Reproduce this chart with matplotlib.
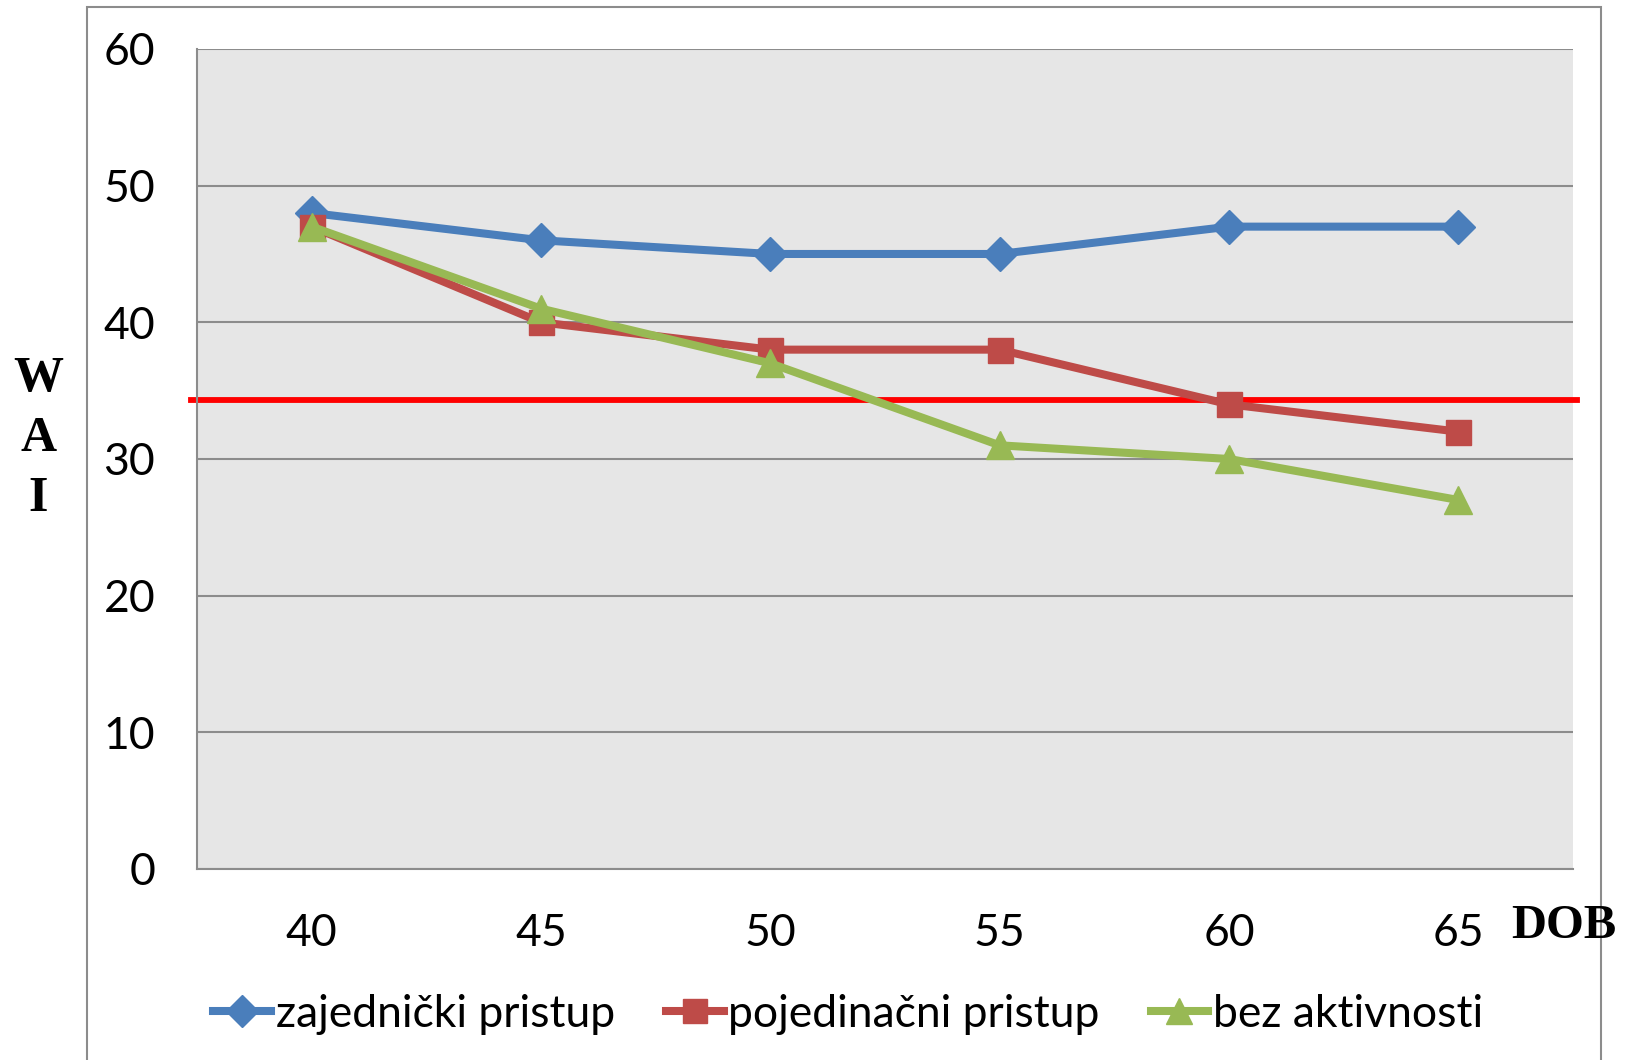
import numpy as np
import matplotlib
matplotlib.use("Agg")
import matplotlib.pyplot as plt
from matplotlib.patches import Rectangle

# Data.
ages = ["40", "45", "50", "55", "60", "65"]
zajednicki = [48, 46, 45, 45, 47, 47]
pojedinacni = [47, 40, 38, 38, 34, 32]
bez_aktivnosti = [47, 41, 37, 31, 30, 27]
threshold = 34.3
yticks = [0, 10, 20, 30, 40, 50, 60]

plt.rcParams["font.family"] = ["Lato", "DejaVu Sans"]

fig = plt.figure(figsize=(16.28, 10.6), dpi=100)
ax = fig.add_axes([0.1210, 0.1802, 0.9662 - 0.1210, 0.9538 - 0.1802])
ax.set_facecolor("#E6E6E6")

x = np.arange(len(ages))

ax.axhline(threshold, xmin=-0.004, xmax=1.003, color="#FF0000", lw=4.2, zorder=2, clip_on=False)

ax.plot(x, zajednicki, color="#4A7EBB", lw=5.8, marker="D", ms=17, zorder=3, label="zajednički pristup")
ax.plot(x, pojedinacni, color="#BE4B48", lw=5.8, marker="s", ms=18, zorder=4, label="pojedinačni pristup")
ax.plot(x, bez_aktivnosti, color="#98B954", lw=5.8, marker="^", ms=20, zorder=5, label="bez aktivnosti")

ax.set_xlim(-0.5, len(ages) - 0.5)
ax.set_ylim(0, 60)
ax.set_yticks(yticks)
ax.set_xticks(x)
ax.set_xticklabels(ages)
ax.tick_params(length=0, labelsize=32, colors="black")
ax.tick_params(axis="y", pad=30)
ax.tick_params(axis="x", pad=32)
ax.yaxis.grid(True, color="#8C8C8C", lw=1.5)
ax.set_axisbelow(True)
for side in ["top", "right"]:
    ax.spines[side].set_visible(False)
for side in ["left", "bottom"]:
    ax.spines[side].set_color("#8C8C8C")
    ax.spines[side].set_linewidth(1.5)

fig.text(0.0236, 0.5858, "W\nA\nI", family="Liberation Serif", weight="bold",
         fontsize=36, ha="center", va="center", linespacing=1.4)
fig.text(0.9607, 0.126, "DOB", family="Liberation Serif", weight="bold",
         fontsize=35, ha="center", va="center")

leg = fig.legend(loc="center", bbox_to_anchor=(0.521, 0.043), ncol=3, frameon=False,
                 fontsize=32, handlelength=1.3, handletextpad=0.1, columnspacing=1.15,
                 markerscale=0.95)

# outer chart frame
fig.patches.append(Rectangle((0.0534, -0.02), 0.9834 - 0.0534, 0.9934 + 0.02,
                             transform=fig.transFigure, fill=False,
                             edgecolor="#8C8C8C", lw=1.5))

fig.savefig("out.png", dpi=100)
